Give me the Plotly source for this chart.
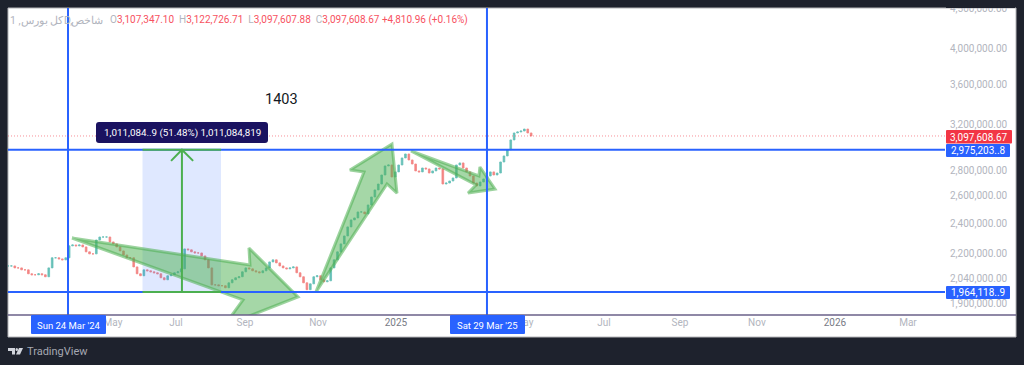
import pandas as pd
import plotly.graph_objects as go

# ---------- data ----------
first_bar = "2024-01-31"
bar_step_days = 3
closes_k = [2119,2119,2107,2107,2095,2095,2071,2065,2065,2071,2065,2053,2107,2170,2170,2163,2157,2170,2247,2253,
            2247,2253,2240,2208,2195,2195,2286,2306,2306,2306,2273,2260,2240,2214,2188,2170,2170,2113,2071,2059,
            2095,2089,2083,2077,2071,2047,2035,2059,2065,2077,2083,2101,2227,2221,2208,2201,2201,2182,2157,2107,
            2005,2005,2000,2000,1988,2017,2035,2047,2053,2083,2107,2101,2089,2083,2077,2089,2107,2144,2157,2138,
            2119,2107,2101,2107,2113,2077,2053,2017,1977,2011,2053,2059,2035,2023,2029,2107,2157,2208,2260,2313,
            2375,2424,2438,2481,2481,2467,2532,2592,2646,2692,2764,2838,2846,2748,2789,2846,2905,2939,2888,2854,
            2797,2789,2821,2813,2780,2797,2821,2813,2692,2700,2716,2740,2846,2863,2821,2789,2756,2700,2677,2708,
            2732,2756,2789,2764,2780,2871,2922,2975,3062,3125,3134,3143,3161,3125,3097.6]

anchor_date = "2024-03-24"          # day offsets below count from here
view_start, view_end = "2024-01-31", "2026-05-07 12:00"
price_low, price_high = 1836000, 4502000
last_price = 3097608.67
level_top, level_bottom = 2975203.8, 1964118.9
date_line_a, date_line_b = 0, 370

price_ticks = [1900000,2040000,2200000,2400000,2600000,2800000,3200000,3600000,4000000,4500000]
month_days = [39.7,95.4,156.3,220.8,289.6,402.7,473.3,540.4,608.4,677.3,741.8]
month_text = ["May","Jul","Sep","Nov","<span style='color:#787b86'>2025</span>","May","Jul","Sep","Nov",
              "<span style='color:#787b86'>2026</span>","Mar"]

arrow1_days = [3.5,160.7,159.8,203.1,137.8,144.8,154.5,3.5]
arrow1_k    = [2299,2125,2233,1936,1778,1836,1919,2299]
arrow2_days = [219,261.4,249,286.1,290.5,281.7,219]
arrow2_k    = [1964,2788,2805,3026,2622,2692,1964]
arrow3_days = [302.9,362.9,363.8,377.1,353.3,360.4,302.9]
arrow3_k    = [2965,2756,2829,2653,2622,2685,2965]

range_days = [65.8,135.1]
range_mid_day = 100.6
head_days = [91,100.6,110.5]
head_k = [2880,2975.2,2880]

# ---------- helpers ----------
base = pd.Timestamp(anchor_date)
def dates(days):
    return [base + pd.Timedelta(days=float(d)) for d in days]
def px(x): return (x - 8) / 937
def py(y): return (315 - y) / 307

bar_dates = pd.date_range(first_bar, periods=len(closes_k), freq=f"{bar_step_days}D")
closes = [c * 1000 for c in closes_k]
opens = [closes[0]] + closes[:-1]
highs = [max(o, c) for o, c in zip(opens, closes)]
lows = [min(o, c) for o, c in zip(opens, closes)]

BLUE = "#2962ff"
GREEN = "#4caf50"
fig = go.Figure()

# measure range band
fig.add_trace(go.Scatter(x=dates([range_days[0],range_days[1],range_days[1],range_days[0],range_days[0]]),
                         y=[level_bottom,level_bottom,level_top,level_top,level_bottom],
                         mode="lines", line=dict(width=0), fill="toself", fillcolor="rgba(41,98,255,0.15)"))
# candles
fig.add_trace(go.Candlestick(x=bar_dates, open=opens, high=highs, low=lows, close=closes,
                             whiskerwidth=0,
                             increasing=dict(line=dict(color="#26a69a", width=0.8), fillcolor="#26a69a"),
                             decreasing=dict(line=dict(color="#ef5350", width=0.8), fillcolor="#ef5350"),
                             opacity=0.7))
# big green arrows
for d, k in [(arrow1_days, arrow1_k), (arrow2_days, arrow2_k), (arrow3_days, arrow3_k)]:
    fig.add_trace(go.Scatter(x=dates(d), y=[v * 1000 for v in k], mode="lines",
                             line=dict(color="rgba(76,175,80,0.55)", width=3),
                             fill="toself", fillcolor="rgba(76,175,80,0.5)"))
# horizontal and vertical lines
for y in (level_top, level_bottom):
    fig.add_trace(go.Scatter(x=[view_start, view_end], y=[y, y], mode="lines", line=dict(color=BLUE, width=2)))
for d in (date_line_a, date_line_b):
    fig.add_trace(go.Scatter(x=dates([d, d]), y=[price_low, price_high], mode="lines", line=dict(color=BLUE, width=2)))
fig.add_trace(go.Scatter(x=[view_start, view_end], y=[last_price, last_price], mode="lines",
                         line=dict(color="rgba(242,54,69,0.55)", width=1, dash="1px,2px")))
# green measure lines
for y in (level_top, level_bottom):
    fig.add_trace(go.Scatter(x=dates(range_days), y=[y, y], mode="lines", line=dict(color=GREEN, width=2)))
fig.add_trace(go.Scatter(x=dates([range_mid_day, range_mid_day]), y=[level_bottom, level_top], mode="lines",
                         line=dict(color=GREEN, width=2)))
fig.add_trace(go.Scatter(x=dates(head_days), y=[v * 1000 for v in head_k], mode="lines", line=dict(color=GREEN, width=2)))

# ---------- chrome ----------
def rounded(x0, y0, x1, y1, r, color):
    X0, X1, Y0, Y1 = px(x0), px(x1), py(y0), py(y1)
    rx, ry = r / 937, r / 307
    path = (f"M {X0+rx} {Y0} L {X1-rx} {Y0} Q {X1} {Y0} {X1} {Y0-ry} L {X1} {Y1+ry} Q {X1} {Y1} {X1-rx} {Y1} "
            f"L {X0+rx} {Y1} Q {X0} {Y1} {X0} {Y1+ry} L {X0} {Y0-ry} Q {X0} {Y0} {X0+rx} {Y0} Z")
    return dict(type="path", xref="paper", yref="paper", path=path, fillcolor=color, line=dict(width=0), layer="above")

DARK = "#1e222d"
shapes = [
    dict(type="rect", xref="paper", yref="paper", x0=px(8), x1=px(1016), y0=py(337), y1=py(8),
         fillcolor="white", line=dict(color="#b4b4b8", width=1), layer="below"),
    dict(type="line", xref="paper", yref="paper", x0=px(8), x1=px(1016), y0=py(315), y1=py(315),
         line=dict(color="#6a6189", width=1.5), layer="above"),
    dict(type="rect", xref="paper", yref="paper", x0=px(946), x1=px(1015), y0=py(8), y1=py(0),
         fillcolor=DARK, line=dict(width=0), layer="above"),
    rounded(96, 122, 268, 143, 3, "#1a1260"),
    rounded(946, 130, 1012, 143.5, 1, "#f23645"),
    rounded(946, 144, 1010, 157, 1, BLUE),
    rounded(946, 286, 1010, 299, 1, BLUE),
    rounded(31, 315, 106, 334, 1, BLUE),
    rounded(450, 315, 525, 334, 1, BLUE),
    # TradingView mark
    dict(type="path", xref="paper", yref="paper", fillcolor="#d1d4dc", line=dict(width=0), layer="above",
         path=f"M {px(8)} {py(348)} L {px(15)} {py(348)} L {px(15)} {py(354.5)} L {px(12)} {py(354.5)} L {px(12)} {py(351)} L {px(8)} {py(351)} Z"),
    dict(type="circle", xref="paper", yref="paper", x0=px(15.5), x1=px(18), y0=py(351), y1=py(348),
         fillcolor="#d1d4dc", line=dict(width=0), layer="above"),
    dict(type="path", xref="paper", yref="paper", fillcolor="#d1d4dc", line=dict(width=0), layer="above",
         path=f"M {px(19)} {py(348)} L {px(23)} {py(348)} L {px(20)} {py(354.5)} L {px(16)} {py(354.5)} Z"),
]

F = "Roboto, sans-serif"
def label(x, y, text, color="white", size=10, xanchor="center"):
    return dict(xref="paper", yref="paper", x=px(x), y=py(y), text=text, showarrow=False, xanchor=xanchor,
                yanchor="middle", font=dict(family=F, size=size, color=color), borderpad=0, borderwidth=0)

G = "#b2b5be"
ohlc = (f"<span style='color:{G}'>O</span>3,107,347.10 <span style='color:{G}'> H</span>3,122,726.71 "
        f"<span style='color:{G}'> L</span>3,097,607.88 <span style='color:{G}'> C</span>3,097,608.67 +4,810.96 (+0.16%)")
annotations = [
    label(103, 20, "شاخص", G, 10.5, "right"),
    label(72, 20, "D,", G, 10.5, "right"),
    label(64, 20, "کل بورس, 1", G, 10.5, "right"),
    label(110, 20, ohlc, "#f7525f", 10, "left"),
    label(281, 99, "1403", "#131722", 14.5),
    label(182, 132.5, "1,011,084..9 (51.48%) 1,011,084,819", "white", 9.8),
    label(979, 137, "3,097,608.67", "white", 10),
    label(978, 150.5, "2,975,203..8", "white", 10),
    label(978, 292.5, "1,964,118..9", "white", 10),
    label(68.5, 325, "Sun 24 Mar '24", "white", 9.5),
    label(487.5, 325, "Sat 29 Mar '25", "white", 9.5),
    label(27, 351, "TradingView", "#a5a8b2", 11, "left"),
]

fig.update_layout(
    width=1024, height=365, autosize=False,
    margin=dict(l=8, r=79, t=8, b=50, pad=0, autoexpand=False),
    paper_bgcolor=DARK, plot_bgcolor="white",
    showlegend=False, hovermode=False,
    font=dict(family=F, size=10, color=G),
    shapes=shapes, annotations=annotations,
    xaxis=dict(type="date", range=[view_start, view_end], rangeslider=dict(visible=False), automargin=False,
               showgrid=False, zeroline=False, showline=False, ticks="",
               tickmode="array", tickvals=dates(month_days), ticktext=month_text,
               tickfont=dict(family=F, size=10, color=G), tickangle=0),
    yaxis=dict(type="log", side="right", range=[6.26387, 6.65341], showgrid=False, zeroline=False, automargin=False,
               showline=False, ticks="", tickmode="array", tickvals=price_ticks, tickformat=",.2f",
               ticklabelstandoff=4, tickfont=dict(family=F, size=10, color=G)),
)
fig.write_html("out.html", config=dict(displayModeBar=False),
               post_script="document.body.style.margin='0';document.documentElement.style.background='#1e222d';document.body.style.overflow='hidden';")
